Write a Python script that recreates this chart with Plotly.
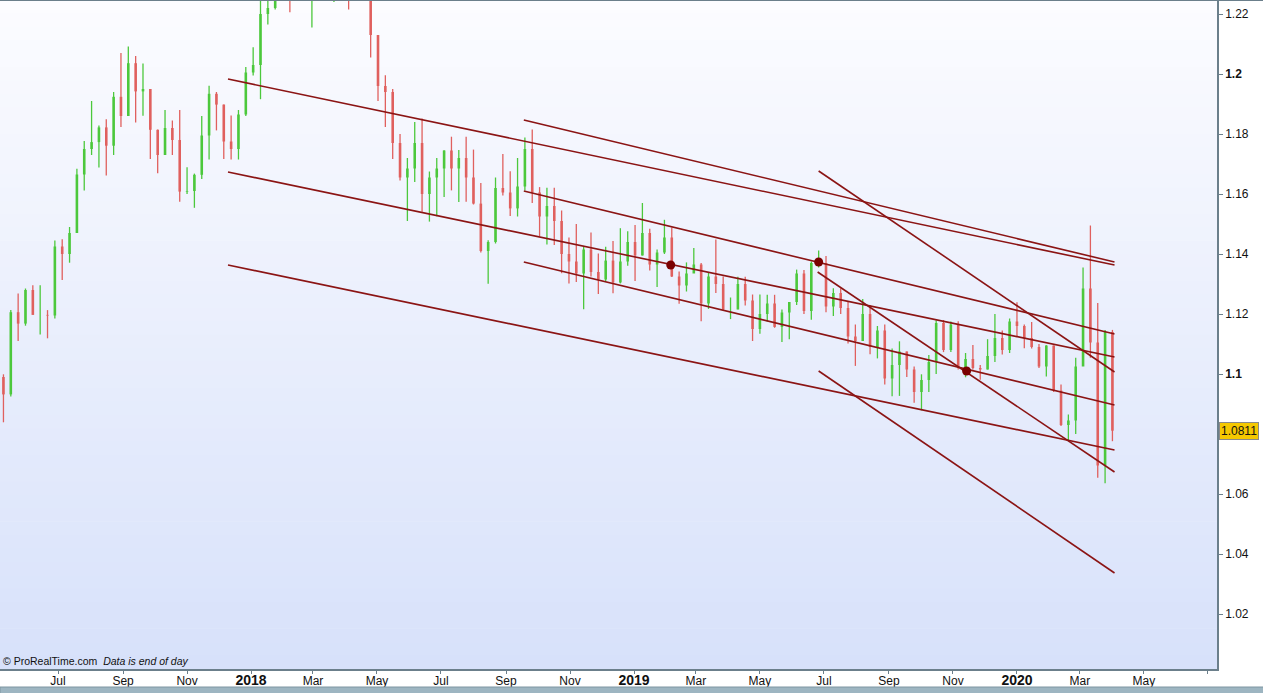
import plotly.graph_objects as go
import pandas as pd

# ---------------- DATA (weekly EUR/USD bars) ----------------
first_week = "2017-05-08"
bar_open = [
    1.0990, 1.0932, 1.1206, 1.1168, 1.1280, 1.1197, 1.1197, 1.1195, 1.1425, 1.1400,
    1.1470, 1.1665, 1.1750, 1.1773, 1.1822, 1.1761, 1.1924, 1.1860, 1.2036, 1.1942,
    1.1950, 1.1814, 1.1730, 1.1820, 1.1780, 1.1608, 1.1610, 1.1664, 1.1795, 1.1934,
    1.1898, 1.1775, 1.1750, 1.1865,
    # 2018
    1.2005, 1.2030, 1.2200, 1.2220, 1.2425, 1.2460, 1.2250, 1.2405, 1.2295, 1.2315,
    1.2305, 1.2285, 1.2352, 1.2322, 1.2282, 1.2333, 1.2288, 1.2130, 1.1960, 1.1940,
    1.1770, 1.1655, 1.1685, 1.1770, 1.1600, 1.1655, 1.1685, 1.1745, 1.1685, 1.1720,
    1.1655, 1.1568, 1.1410, 1.1440, 1.1620, 1.1605, 1.1552, 1.1625, 1.1750, 1.1605,
    1.1525, 1.1560, 1.1510, 1.1400, 1.1375, 1.1335, 1.1415, 1.1340, 1.1315, 1.1378,
    1.1305, 1.1375,
    # 2019
    1.1440, 1.1395, 1.1470, 1.1365, 1.1405, 1.1455, 1.1325, 1.1295, 1.1335, 1.1365,
    1.1235, 1.1325, 1.1300, 1.1215, 1.1215, 1.1300, 1.1245, 1.1150, 1.1200, 1.1235,
    1.1157, 1.1205, 1.1240, 1.1335, 1.1210, 1.1370, 1.1370, 1.1225, 1.1270, 1.1220,
    1.1125, 1.1110, 1.1200, 1.1090, 1.1145, 1.0985, 1.1030, 1.1075, 1.1015, 1.0940,
    1.0980, 1.1040, 1.1170, 1.1080, 1.1165, 1.1020, 1.1050, 1.1020, 1.1015, 1.1060,
    1.1120, 1.1080, 1.1175,
    # 2020
    1.1160, 1.1120, 1.1090, 1.1025, 1.1095, 1.0945, 1.0830, 1.0845, 1.1025, 1.1285,
    1.1105, 1.0695, 1.1140,
]
bar_high = [
    1.0999, 1.1213, 1.1268, 1.1285, 1.1296, 1.1296, 1.1213, 1.1445, 1.1449, 1.1490,
    1.1684, 1.1777, 1.1910, 1.1828, 1.1849, 1.1940, 1.2070, 1.2092, 1.2060, 1.2035,
    1.1950, 1.1815, 1.1880, 1.1845, 1.1880, 1.1689, 1.1668, 1.1860, 1.1961, 1.1940,
    1.1898, 1.1862, 1.1880, 1.2023,
    # 2018
    1.2089, 1.2297, 1.2323, 1.2536, 1.2520, 1.2472, 1.2555, 1.2413, 1.2356, 1.2446,
    1.2413, 1.2388, 1.2476, 1.2345, 1.2396, 1.2415, 1.2289, 1.2128, 1.1996, 1.1950,
    1.1800, 1.1720, 1.1840, 1.1852, 1.1675, 1.1720, 1.1746, 1.1791, 1.1747, 1.1791,
    1.1748, 1.1637, 1.1446, 1.1655, 1.1733, 1.1676, 1.1720, 1.1788, 1.1815, 1.1623,
    1.1621, 1.1621, 1.1545, 1.1455, 1.1500, 1.1425, 1.1472, 1.1402, 1.1424, 1.1443,
    1.1486, 1.1476,
    # 2019
    1.1497, 1.1570, 1.1484, 1.1415, 1.1514, 1.1488, 1.1342, 1.1372, 1.1420, 1.1370,
    1.1339, 1.1448, 1.1325, 1.1255, 1.1324, 1.1324, 1.1265, 1.1265, 1.1264, 1.1264,
    1.1215, 1.1215, 1.1348, 1.1347, 1.1375, 1.1412, 1.1393, 1.1286, 1.1286, 1.1240,
    1.1165, 1.1250, 1.1230, 1.1160, 1.1165, 1.1085, 1.1109, 1.1075, 1.1025, 1.0999,
    1.1063, 1.1179, 1.1180, 1.1175, 1.1176, 1.1070, 1.1097, 1.1030, 1.1116, 1.1200,
    1.1145, 1.1185, 1.1239,
    # 2020
    1.1165, 1.1173, 1.1100, 1.1096, 1.1095, 1.0965, 1.0865, 1.1054, 1.1355, 1.1495,
    1.1237, 1.1147, 1.1147,
]
bar_low = [
    1.0839, 1.0925, 1.1110, 1.1161, 1.1198, 1.1132, 1.1119, 1.1185, 1.1313, 1.1371,
    1.1470, 1.1612, 1.1730, 1.1688, 1.1662, 1.1730, 1.1823, 1.1860, 1.1838, 1.1861,
    1.1717, 1.1669, 1.1730, 1.1730, 1.1574, 1.1600, 1.1554, 1.1650, 1.1715, 1.1812,
    1.1717, 1.1715, 1.1715, 1.1860,
    # 2018
    1.1995, 1.1916, 1.2165, 1.2215, 1.2335, 1.2206, 1.2250, 1.2260, 1.2155, 1.2275,
    1.2260, 1.2240, 1.2290, 1.2215, 1.2300, 1.2266, 1.2055, 1.1910, 1.1823, 1.1717,
    1.1645, 1.1510, 1.1640, 1.1541, 1.1508, 1.1526, 1.1590, 1.1612, 1.1573, 1.1574,
    1.1565, 1.1405, 1.1301, 1.1435, 1.1595, 1.1527, 1.1525, 1.1612, 1.1570, 1.1460,
    1.1432, 1.1430, 1.1336, 1.1302, 1.1307, 1.1216, 1.1325, 1.1267, 1.1310, 1.1269,
    1.1302, 1.1361,
    # 2019
    1.1310, 1.1395, 1.1345, 1.1290, 1.1400, 1.1323, 1.1234, 1.1275, 1.1345, 1.1176,
    1.1217, 1.1270, 1.1213, 1.1183, 1.1216, 1.1228, 1.1110, 1.1134, 1.1175, 1.1154,
    1.1107, 1.1116, 1.1230, 1.1200, 1.1181, 1.1355, 1.1206, 1.1193, 1.1200, 1.1102,
    1.1027, 1.1155, 1.1066, 1.1052, 1.0965, 1.0926, 1.0927, 1.0990, 1.0904, 1.0879,
    1.0940, 1.1000, 1.1073, 1.1073, 1.1015, 1.0989, 1.1015, 1.0981, 1.1015, 1.1040,
    1.1065, 1.1070, 1.1125,
    # 2020
    1.1086, 1.1085, 1.1020, 1.0992, 1.0940, 1.0827, 1.0778, 1.0800, 1.1055, 1.1054,
    1.0654, 1.0636, 1.0776,
]
bar_close = [
    1.0932, 1.1206, 1.1168, 1.1280, 1.1197, 1.1197, 1.1195, 1.1425, 1.1400, 1.1470,
    1.1665, 1.1750, 1.1773, 1.1822, 1.1761, 1.1924, 1.1860, 1.2036, 1.1942, 1.1950,
    1.1814, 1.1730, 1.1820, 1.1780, 1.1608, 1.1610, 1.1664, 1.1795, 1.1934, 1.1898,
    1.1775, 1.1750, 1.1865, 1.2005,
    # 2018
    1.2030, 1.2200, 1.2220, 1.2425, 1.2460, 1.2250, 1.2405, 1.2295, 1.2315, 1.2305,
    1.2285, 1.2352, 1.2322, 1.2282, 1.2333, 1.2288, 1.2130, 1.1960, 1.1940, 1.1770,
    1.1655, 1.1685, 1.1770, 1.1600, 1.1655, 1.1685, 1.1745, 1.1685, 1.1720, 1.1655,
    1.1568, 1.1410, 1.1440, 1.1620, 1.1605, 1.1552, 1.1625, 1.1750, 1.1605, 1.1525,
    1.1560, 1.1510, 1.1400, 1.1375, 1.1335, 1.1415, 1.1340, 1.1315, 1.1378, 1.1305,
    1.1375, 1.1440,
    # 2019
    1.1395, 1.1470, 1.1365, 1.1405, 1.1455, 1.1325, 1.1295, 1.1335, 1.1365, 1.1235,
    1.1325, 1.1300, 1.1215, 1.1215, 1.1300, 1.1245, 1.1150, 1.1200, 1.1235, 1.1157,
    1.1205, 1.1240, 1.1335, 1.1210, 1.1370, 1.1370, 1.1225, 1.1270, 1.1220, 1.1125,
    1.1110, 1.1200, 1.1090, 1.1145, 1.0985, 1.1030, 1.1075, 1.1015, 1.0940, 1.0980,
    1.1040, 1.1170, 1.1080, 1.1165, 1.1020, 1.1050, 1.1020, 1.1015, 1.1060, 1.1120,
    1.1080, 1.1175, 1.1160,
    # 2020
    1.1120, 1.1090, 1.1025, 1.1095, 1.0945, 1.0830, 1.0845, 1.1025, 1.1285, 1.1105,
    1.0695, 1.1140, 1.0811,
]

# Trend lines drawn on the chart (start / end points in date, price)
trend_x0 = ["2017-12-10", "2018-09-18", "2017-12-10", "2018-09-18", "2018-09-18",
            "2017-12-10", "2019-06-26", "2019-06-25", "2019-06-26"]
trend_y0 = [1.19833, 1.18467, 1.16733, 1.16100, 1.13733, 1.13633, 1.16767, 1.13400, 1.10100]
trend_x1 = ["2020-04-03"] * 9
trend_y1 = [1.13633, 1.13733, 1.10567, 1.11333, 1.08967, 1.07467, 1.10067, 1.06733, 1.03367]

# Anchor points (dots)
dot_x = ["2019-02-05", "2019-06-26", "2019-11-14"]
dot_y = [1.13633, 1.13733, 1.10100]

last_price = 1.0811

x_tick_dates = ["2017-07-01", "2017-09-01", "2017-11-01", "2018-01-01", "2018-03-01",
                "2018-05-01", "2018-07-01", "2018-09-01", "2018-11-01", "2019-01-01",
                "2019-03-01", "2019-05-01", "2019-07-01", "2019-09-01", "2019-11-01",
                "2020-01-01", "2020-03-01", "2020-05-01", "2020-07-01"]
x_tick_labels = ["Jul", "Sep", "Nov", "2018", "Mar", "May", "Jul", "Sep", "Nov", "2019",
                 "Mar", "May", "Jul", "Sep", "Nov", "2020", "Mar", "May", ""]
y_tick_vals = [1.02, 1.04, 1.06, 1.10, 1.12, 1.14, 1.16, 1.18, 1.20, 1.22]
y_tick_labels = ["1.02", "1.04", "1.06", "1.1", "1.12", "1.14", "1.16", "1.18", "1.2", "1.22"]

# ---------------- FIGURE ----------------
weeks = pd.date_range(first_week, periods=len(bar_close), freq="W-MON") + pd.Timedelta(days=2)

GREEN = "#4CC83C"
RED = "#E0605E"
LINE = "#8B1414"

fig = go.Figure()

for is_up, col in [(True, GREEN), (False, RED)]:
    wx, wy, bx, by = [], [], [], []
    for d, o, h, l, c in zip(weeks, bar_open, bar_high, bar_low, bar_close):
        if (c >= o) != is_up:
            continue
        wx += [d, d, None]
        wy += [l, h, None]
        bx += [d, d, None]
        by += [o, c, None]
    fig.add_trace(go.Scatter(x=wx, y=wy, mode="lines", line=dict(color=col, width=1.3),
                             hoverinfo="skip", showlegend=False))
    fig.add_trace(go.Scatter(x=bx, y=by, mode="lines", line=dict(color=col, width=2.6),
                             hoverinfo="skip", showlegend=False))

tx, ty = [], []
for a, b, c, d in zip(trend_x0, trend_y0, trend_x1, trend_y1):
    tx += [a, c, None]
    ty += [b, d, None]
fig.add_trace(go.Scatter(x=tx, y=ty, mode="lines", line=dict(color=LINE, width=1.6),
                         hoverinfo="skip", showlegend=False))
fig.add_trace(go.Scatter(x=dot_x, y=dot_y, mode="markers",
                         marker=dict(color="#7A0000", size=9), showlegend=False))

# gradient background of the plot area
top_rgb = (252, 252, 255)
bot_rgb = (215, 225, 250)
N = 50
shapes = []
for i in range(N):
    f = (i + 0.5) / N
    r = round(bot_rgb[0] + (top_rgb[0] - bot_rgb[0]) * f)
    g = round(bot_rgb[1] + (top_rgb[1] - bot_rgb[1]) * f)
    b = round(bot_rgb[2] + (top_rgb[2] - bot_rgb[2]) * f)
    shapes.append(dict(type="rect", xref="x domain", yref="y domain",
                       x0=0, x1=1, y0=i / N, y1=(i + 1) / N + 0.001,
                       fillcolor=f"rgb({r},{g},{b})", line=dict(width=0), layer="below"))
# top border line
shapes.append(dict(type="line", xref="paper", yref="paper", x0=0, x1=1.04, y0=1, y1=1,
                   line=dict(color="#6B7F8B", width=2)))
# bottom toolbar strip
shapes.append(dict(type="rect", xref="paper", yref="paper", x0=0, x1=1.04,
                   y0=-25 / 669, y1=-18 / 669, fillcolor="#9DB5C1",
                   line=dict(color="#7E96A2", width=1)))

tick_text_x = [f"<b><span style='font-size:14px'>{t}</span></b>" if t.isdigit() else t
               for t in x_tick_labels]
tick_text_y = [f"<b>{t}</b>" if t in ("1.2", "1.1") else t for t in y_tick_labels]

fig.update_layout(
    width=1263, height=693,
    margin=dict(l=0, r=46, t=0, b=24, pad=0, autoexpand=False),
    paper_bgcolor="white",
    plot_bgcolor="rgba(0,0,0,0)",
    font=dict(family="Liberation Sans, Arial, sans-serif", size=12, color="#111"),
    shapes=shapes,
    showlegend=False,
    xaxis=dict(type="date", range=["2017-05-06 17:00", "2020-07-09 16:00"],
               tickvals=x_tick_dates, ticktext=tick_text_x, tickangle=0,
               ticks="outside", ticklen=3, tickcolor="#6B7F8B",
               ticklabelstandoff=-3,
               tickfont=dict(size=12, color="#111"),
               showline=True, linecolor="#6B7F8B", linewidth=1.5,
               showgrid=False, zeroline=False, fixedrange=True, automargin=False),
    yaxis=dict(side="right", range=[1.001667, 1.224667],
               tickvals=y_tick_vals, ticktext=tick_text_y,
               ticks="outside", ticklen=4, tickcolor="#6B7F8B",
               tickfont=dict(size=12, color="#111"),
               showline=True, linecolor="#6B7F8B", linewidth=1.5,
               showgrid=False, zeroline=False, fixedrange=True, automargin=False),
    annotations=[
        dict(xref="paper", yref="paper", x=0.001, y=0.0, xanchor="left", yanchor="bottom",
             text="© ProRealTime.com  <i>Data is end of day</i>", showarrow=False,
             font=dict(size=10.5, color="#111")),
        dict(xref="paper", yref="y", x=1.0015, y=last_price, xanchor="left", yanchor="middle",
             text=f"{last_price:.4f}", showarrow=False, bgcolor="#F5C800",
             bordercolor="#8A8A8A", borderwidth=1, borderpad=1,
             font=dict(size=12, color="#111")),
    ],
)

fig.write_html("out.html", config={"displayModeBar": False},
               post_script="document.body.style.margin='0';document.body.style.overflow='hidden';")
